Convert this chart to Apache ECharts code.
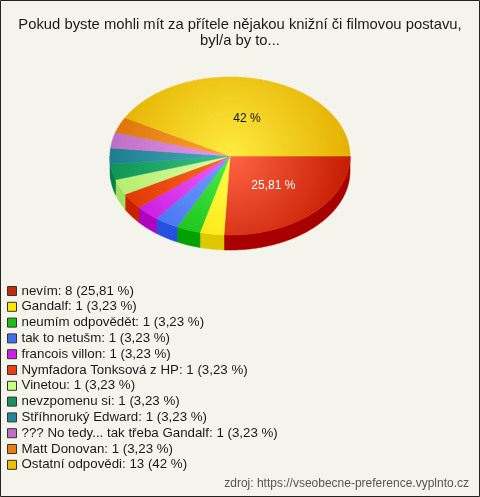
<!DOCTYPE html>
<html><head><meta charset="utf-8">
<script src="https://cdn.jsdelivr.net/npm/echarts@6/dist/echarts.min.js"></script>
<style>html,body{margin:0;padding:0;background:#f4f4ec}#c{width:480px;height:497px}</style>
</head><body><div id="c"></div>
<script>
const categories = ['nevím','Gandalf','neumím odpovědět','tak to netušm','francois villon','Nymfadora Tonksová z HP','Vinetou','nevzpomenu si','Stříhnoruký Edward','??? No tedy... tak třeba Gandalf','Matt Donovan','Ostatní odpovědi'];
const values = [8,1,1,1,1,1,1,1,1,1,1,13];
const pctLabels = ['25,81','3,23','3,23','3,23','3,23','3,23','3,23','3,23','3,23','3,23','3,23','42'];

const topLight = ['#ff6444','#ffff50','#48f048','#78a0ff','#f060ff','#ff6a28','#dcffa8','#38c488','#48aebe','#ec9cec','#ffa434','#ffec40'];
const topDark  = ['#c41c00','#fae000','#10b410','#3c6cf0','#c414dc','#dc3400','#b4ec6c','#0e9454','#1c7c8e','#bc6cc4','#dc7408','#e4b000'];
const wallColors = ['#a80000','#e0c800','#00a000','#2850e0','#b000c0','#c82000','#a0e060','#008040','#107080','#a050a8','#c06000','#d0a000'];
const legendColors = ['#c02810','#ffe800','#18c018','#4070f0','#d020e8','#e84010','#c8ff80','#189060','#208898','#c070c8','#e88010','#f0c000'];
const labelColors = ['#ffffff','#000','#000','#000','#000','#000','#000','#000','#000','#000','#000','#111111'];

const total = values.reduce((a,b)=>a+b,0);
const starts = []; let acc = 0; values.forEach(v=>{starts.push(acc); acc+=v;});
const CX=230, CY=156, RX=120, RY=79, DEPTH=15;
function pt(a, dy){ return [CX+RX*Math.cos(a), CY+RY*Math.sin(a)+(dy||0)]; }

function makeRender(i){
  return function(params, api){
    const v = api.value(0);
    const a1 = starts[i]/total*2*Math.PI, a2 = (starts[i]+v)/total*2*Math.PI;
    const children = [];
    const w1 = Math.max(a1,0), w2 = Math.min(a2,Math.PI);
    if (w2 > w1){
      const pts = []; const n = Math.max(2, Math.ceil((w2-w1)/0.01));
      for (let k=0;k<=n;k++) pts.push(pt(w1+(w2-w1)*k/n));
      for (let k=n;k>=0;k--) pts.push(pt(w1+(w2-w1)*k/n, DEPTH));
      children.push({type:'polygon', shape:{points:pts}, style:{fill:wallColors[i], stroke:wallColors[i], lineWidth:0.6}, z2:0});
    }
    const tp = [[CX,CY]]; const n2 = Math.max(2, Math.ceil((a2-a1)/0.01));
    for (let k=0;k<=n2;k++) tp.push(pt(a1+(a2-a1)*k/n2));
    const grad = new echarts.graphic.RadialGradient(CX, CY, RX*1.02, [{offset:0,color:topLight[i]},{offset:1,color:topDark[i]}], true);
    children.push({type:'polygon', shape:{points:tp}, style:{fill:grad, stroke:grad, lineWidth:0.6}, z2:1});
    if (v/total > 0.1){
      const m = (a1+a2)/2;
      children.push({type:'text', x:CX+0.5*RX*Math.cos(m)+2, y:CY+0.5*RY*Math.sin(m)+1, style:{text:pctLabels[i]+' %', fill:labelColors[i], font:'12px "Liberation Sans", Arial, sans-serif', align:'center', verticalAlign:'middle'}, z2:5});
    }
    return {type:'group', children};
  };
}

const chart = echarts.init(document.getElementById('c'), null, {renderer:'canvas'});
chart.setOption({
  backgroundColor:'#f4f4ec',
  animation:false,
  title:{text:'Pokud byste mohli mít za přítele nějakou knižní či filmovou postavu,\nbyl/a by to...', left:'center', top:12,
    textStyle:{fontSize:14.8, fontWeight:'normal', color:'#1a1a1a', fontFamily:'"Liberation Sans", Arial, sans-serif', lineHeight:16}},
  legend:{data:categories, orient:'vertical', left:7, top:284, padding:0, itemWidth:9, itemHeight:9, itemGap:1.8, icon:'rect', selectedMode:false,
    itemStyle:{borderColor:'#333', borderWidth:1},
    textStyle:{fontSize:13.3, fontFamily:'"Liberation Sans", Arial, sans-serif', color:'#1a1a1a', lineHeight:14},
    formatter: name => { const i = categories.indexOf(name); return name+': '+values[i]+' ('+pctLabels[i]+' %)'; }},
  graphic:[
    {type:'rect', shape:{x:0.5,y:0.5,width:479,height:496}, style:{fill:'none', stroke:'#222', lineWidth:1}, silent:true},
    {type:'text', right:11, top:478, style:{text:'zdroj: https://vseobecne-preference.vyplnto.cz', font:'12px "Liberation Sans", Arial, sans-serif', fill:'#555'}, silent:true}
  ],
  series: categories.map((name,i)=>({type:'custom', name, coordinateSystem:'none', renderItem:makeRender(i), data:[[values[i]]], itemStyle:{color:legendColors[i]}, silent:true}))
});
</script></body></html>
